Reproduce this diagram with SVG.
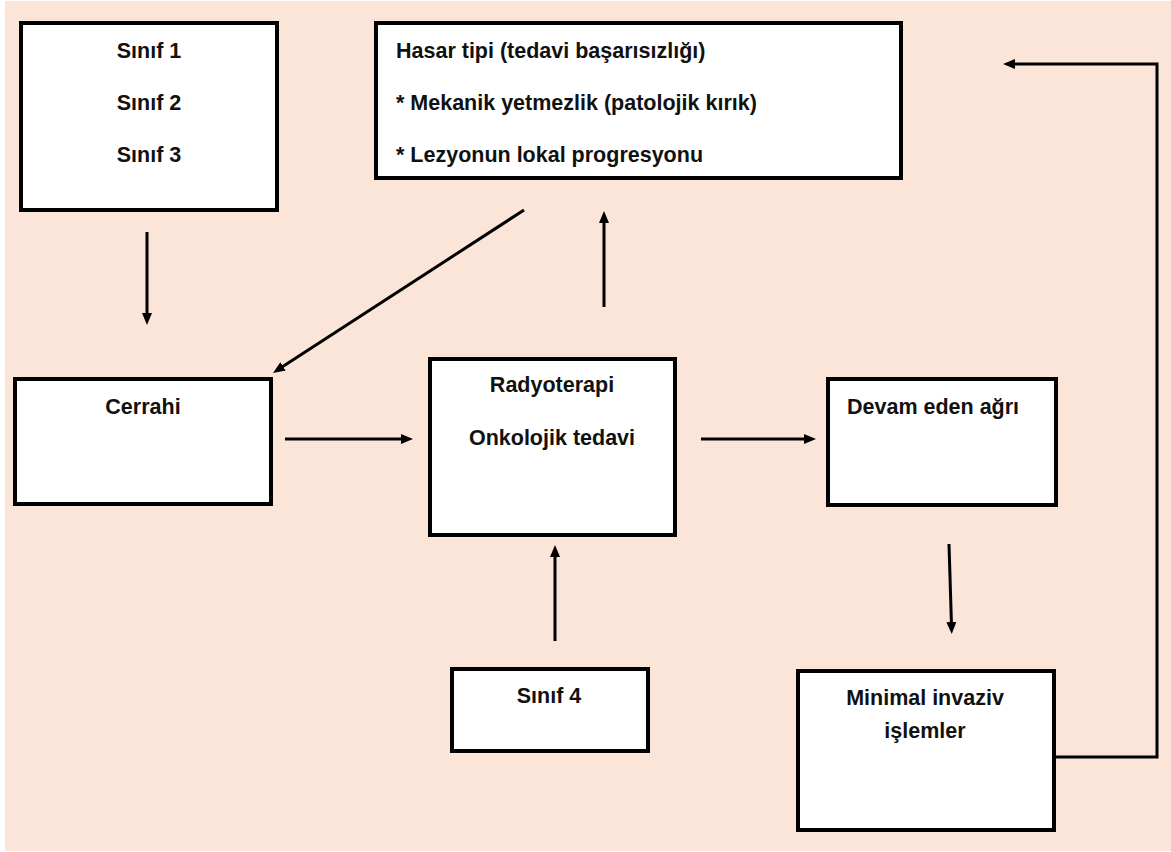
<svg xmlns="http://www.w3.org/2000/svg" width="1171" height="852" viewBox="0 0 1171 852">
<style>
.box{fill:#ffffff;stroke:#000;stroke-width:4}
.t{font-family:"Liberation Sans",Arial,sans-serif;font-weight:bold;font-size:21.5px;fill:#111}
.c{text-anchor:middle}
.conn{fill:none;stroke:#000;stroke-width:3}
</style>
<defs>
<marker id="ah" markerUnits="userSpaceOnUse" markerWidth="12" markerHeight="10" refX="4" refY="5" orient="auto">
<path d="M0,0 L12,5 L0,10 z" fill="#000"/>
</marker>
</defs>
<rect x="0" y="0" width="1171" height="852" fill="#ffffff"/>
<rect x="5" y="1" width="1166" height="850" fill="#FAE5D8"/>

<g id="sinif123">
<rect class="box" x="21" y="23" width="256" height="187"/>
<text class="t c" x="149" y="58">Sınıf 1</text>
<text class="t c" x="149" y="110">Sınıf 2</text>
<text class="t c" x="149" y="162">Sınıf 3</text>
</g>

<g id="hasar">
<rect class="box" x="376" y="23" width="525" height="155"/>
<text class="t" x="396" y="58">Hasar tipi (tedavi başarısızlığı)</text>
<text class="t" x="396" y="110">* Mekanik yetmezlik (patolojik kırık)</text>
<text class="t" x="396" y="162">* Lezyonun lokal progresyonu</text>
</g>

<g id="cerrahi">
<rect class="box" x="15" y="379" width="256" height="125"/>
<text class="t c" x="143" y="414">Cerrahi</text>
</g>

<g id="radyoterapi">
<rect class="box" x="430" y="359" width="245" height="176"/>
<text class="t c" x="552" y="392">Radyoterapi</text>
<text class="t c" x="552" y="445">Onkolojik tedavi</text>
</g>

<g id="devam">
<rect class="box" x="828" y="379" width="228" height="126"/>
<text class="t" x="847" y="414">Devam eden ağrı</text>
</g>

<g id="sinif4">
<rect class="box" x="452" y="669" width="196" height="82"/>
<text class="t c" x="549" y="703">Sınıf 4</text>
</g>

<g id="minimal">
<rect class="box" x="798" y="671" width="256" height="159"/>
<text class="t c" x="925" y="705">Minimal invaziv</text>
<text class="t c" x="925" y="738">işlemler</text>
</g>

<g id="connectors">
<line class="conn" x1="147" y1="232" x2="147" y2="317" marker-end="url(#ah)"/>
<line class="conn" x1="524" y1="210" x2="279.7" y2="368.6" marker-end="url(#ah)"/>
<line class="conn" x1="604" y1="307" x2="604" y2="219" marker-end="url(#ah)"/>
<line class="conn" x1="285" y1="439" x2="405" y2="439" marker-end="url(#ah)"/>
<line class="conn" x1="701" y1="439" x2="808" y2="439" marker-end="url(#ah)"/>
<line class="conn" x1="555" y1="641" x2="555" y2="553" marker-end="url(#ah)"/>
<line class="conn" x1="949" y1="544" x2="951.5" y2="626" marker-end="url(#ah)"/>
<polyline class="conn" points="1056,757 1157,757 1157,64 1011,64" marker-end="url(#ah)"/>
</g>
</svg>
